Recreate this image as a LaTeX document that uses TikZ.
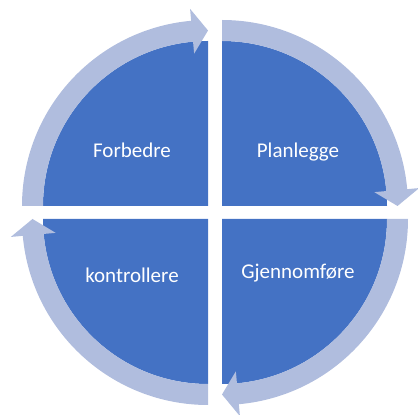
\documentclass[tikz,border=0pt]{standalone}
\usepackage{fontspec}
\setmainfont{Carlito}
\usepackage{tikz}
\usetikzlibrary{positioning}
\definecolor{quadblue}{RGB}{68,114,196}
\definecolor{ringblue}{RGB}{176,189,222}
\newcommand{\cyclearrow}[2]{%
  \fill[ring, shift={#1}]
    (#2:186) arc[start angle=#2, end angle=#2-84.8, radius=186] --
    (#2-84.8:198) -- (#2-90:175.5) -- (#2-84.8:153) --
    (#2-84.8:165) arc[start angle=#2-84.8, end angle=#2, radius=165] -- cycle;}

\begin{document}
\begin{tikzpicture}[x=1pt, y=1pt,
    quad/.style={fill=quadblue},
    ring/.style={fill=ringblue},
    lbl/.style={text=white, anchor=base, inner sep=0pt, font=\fontsize{21}{25}\selectfont}]
    \useasboundingbox (0,0) rectangle (418,415);
    \coordinate (tl) at (208,209);
    \coordinate (tr) at (222,209);
    \coordinate (br) at (222,196);
    \coordinate (bl) at (208,196);
    \fill[quad] (tl) -- ++(180:165) arc[start angle=180, end angle=90, radius=165] -- cycle;
    \fill[quad] (tr) -- ++(90:165) arc[start angle=90, end angle=0, radius=165] -- cycle;
    \fill[quad] (br) -- ++(0:165) arc[start angle=0, end angle=-90, radius=165] -- cycle;
    \fill[quad] (bl) -- ++(-90:165) arc[start angle=-90, end angle=-180, radius=165] -- cycle;
    \cyclearrow{(tl)}{180}
    \cyclearrow{(tr)}{90}
    \cyclearrow{(br)}{0}
    \cyclearrow{(bl)}{-90}
    \node[lbl] (forbedre) at (132,257) {Forbedre};
    \node[lbl] (planlegge) at (298,257) {Planlegge};
    \node[lbl] (gjennomfore) at (298,136) {Gjennomføre};
    \node[lbl] (kontrollere) at (132,132) {kontrollere};
\end{tikzpicture}
\end{document}
